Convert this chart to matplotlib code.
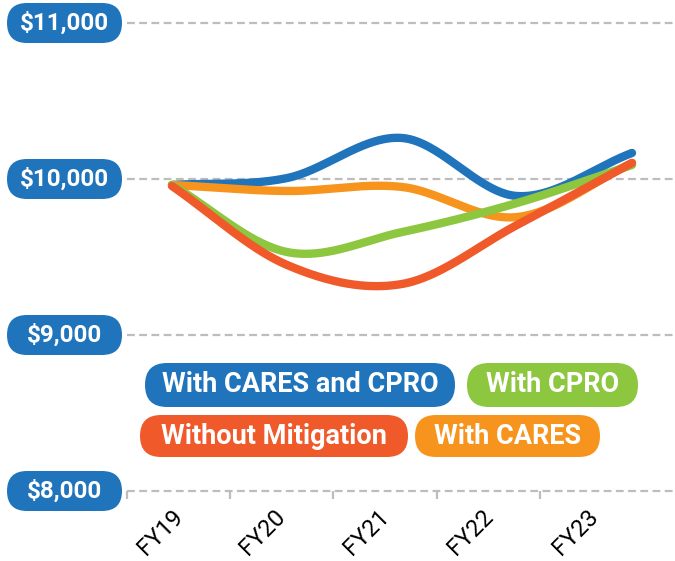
import numpy as np
import matplotlib
matplotlib.use("Agg")
import matplotlib.pyplot as plt
from matplotlib.patches import FancyBboxPatch

# data
years = ["FY19", "FY20", "FY21", "FY22", "FY23"]
cares_cpro = [9962, 10006, 10263, 9891, 10167]
cpro_only = [9962, 9532, 9660, 9846, 10090]
no_mitigation = [9955, 9449, 9327, 9705, 10103]
cares_only = [9962, 9923, 9949, 9756, 10103]
y_ticks = [8000, 9000, 10000, 11000]

BLUE = "#1f74bb"
GREEN = "#8dc63f"
RED = "#f05a2a"
ORANGE = "#f7941d"
GRID = "#bdbdbd"
FONT = "Roboto"

W, H = 675, 561


def catmull(xs, ys, n=60):
    # catmull-rom smoothing through the points
    xs = np.asarray(xs, float)
    ys = np.asarray(ys, float)
    h = np.diff(xs)
    t = np.zeros(len(xs))
    for i in range(1, len(xs) - 1):
        t[i] = (ys[i + 1] - ys[i - 1]) / (xs[i + 1] - xs[i - 1])
    t[0] = (ys[1] - ys[0]) / h[0]
    t[-1] = (ys[-1] - ys[-2]) / h[-1]
    px, py = [], []
    for i in range(len(xs) - 1):
        u = np.linspace(0, 1, n)
        h00 = 2 * u**3 - 3 * u**2 + 1
        h10 = u**3 - 2 * u**2 + u
        h01 = -2 * u**3 + 3 * u**2
        h11 = u**3 - u**2
        px.extend(xs[i] + u * h[i])
        py.extend(h00 * ys[i] + h10 * h[i] * t[i] + h01 * ys[i + 1] + h11 * h[i] * t[i + 1])
    return np.array(px), np.array(py)


fig = plt.figure(figsize=(W / 100, H / 100), dpi=100)

# axes area in pixels: x 127..675, y 23..491 (top origin)
ax = fig.add_axes([127 / W, (H - 491) / H, (W - 127) / W, 468 / H])
x = np.arange(len(years))
ax.set_xlim((127 - 172) / 115, (675 - 172) / 115)
ax.set_ylim(8000, 11000)

for v in y_ticks:
    ax.axhline(v, color=GRID, lw=1.6, ls=(0, (3.5, 2)), zorder=1, clip_on=False)

for vals, col in [(cares_cpro, BLUE), (cares_only, ORANGE), (cpro_only, GREEN), (no_mitigation, RED)]:
    sx, sy = catmull(x, vals)
    ax.plot(sx, sy, color=col, lw=6, solid_capstyle="round", zorder=3)

for sp in ax.spines.values():
    sp.set_visible(False)
ax.set_yticks([])
tick_pos = [(p - 172) / 115 for p in (127, 230, 333, 437, 540)]
ax.set_xticks(tick_pos)
ax.set_xticklabels([])
ax.tick_params(axis="x", length=6, width=1.6, color=GRID)

# rotated year labels, below the axis
label_pos = [(p - 172) / 115 for p in (160, 263, 366, 471, 575)]
label_y = 8000 - 41 / 156 * 1000
for pos, lab in zip(label_pos, years):
    ax.text(pos, label_y, lab, rotation=45, ha="center", va="center",
            fontsize=17, family=FONT, color="black", clip_on=False)


def pill(x0, y0, x1, y1, color, text, size):
    r = (y1 - y0) / 2
    patch = FancyBboxPatch((x0 / W, 1 - y1 / H), (x1 - x0) / W, (y1 - y0) / H,
                           boxstyle="round,pad=0,rounding_size=%f" % (r / W),
                           transform=fig.transFigure, fc=color, ec="none",
                           mutation_aspect=W / H)
    fig.patches.append(patch)
    fig.text((x0 + x1) / 2 / W, 1 - (y0 + y1) / 2 / H, text, ha="center", va="center",
             color="white", fontsize=size, fontweight="bold", family=FONT)


# y-axis value pills
for v in y_ticks:
    yc = 491 - (v - 8000) / 1000 * 156
    pill(7, yc - 20, 122, yc + 20, BLUE, "${:,}".format(v), 17.5)

# legend pills
pill(145, 363, 455, 407, BLUE, "With CARES and CPRO", 19.5)
pill(467, 363, 638, 407, GREEN, "With CPRO", 19.5)
pill(140, 415, 408, 457, RED, "Without Mitigation", 19.5)
pill(415, 415, 600, 457, ORANGE, "With CARES", 19.5)

fig.savefig("out.png", dpi=100)
